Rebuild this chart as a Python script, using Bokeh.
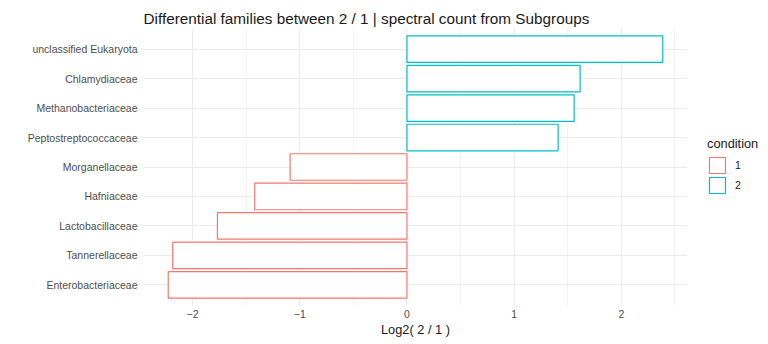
from bokeh.plotting import figure
from bokeh.models import (Range1d, FactorRange, Legend, LegendItem, ColumnDataSource,
                          FixedTicker, Title)
from bokeh.embed import file_html
from bokeh.resources import INLINE

# Data (bottom to top)
families = ["Enterobacteriaceae", "Tannerellaceae", "Lactobacillaceae", "Hafniaceae",
            "Morganellaceae", "Peptostreptococcaceae", "Methanobacteriaceae",
            "Chlamydiaceae", "unclassified Eukaryota"]
log2fc = [-2.227, -2.185, -1.768, -1.42, -1.09, 1.41, 1.559, 1.615, 2.386]
condition = ["1", "1", "1", "1", "1", "2", "2", "2", "2"]
cond_levels = ["1", "2"]
cond_colors = {"1": "#F8766D", "2": "#00BFC4"}
x_ticks = [-2, -1, 0, 1, 2]
x_minor = [-1.5, -0.5, 0.5, 1.5, 2.5]
title_text = "Differential families between 2 / 1 | spectral count from Subgroups"

lo, hi = min(log2fc), max(log2fc)
pad = 0.05 * (hi - lo)

FONT = "Liberation Sans"

p = figure(frame_width=544, frame_height=277, output_backend="svg", toolbar_location=None,
           y_range=FactorRange(factors=families, range_padding=0.2, range_padding_units="absolute"),
           x_range=Range1d(lo - pad, hi + pad),
           min_border_left=143, min_border_right=81, min_border_top=28, min_border_bottom=39)

p.outline_line_color = None
p.background_fill_color = "white"
p.border_fill_color = "white"

p.add_layout(Title(text=title_text, text_font=FONT, text_font_size="15.3px",
                   text_font_style="normal", text_color="#1a1a1a", align="left",
                   vertical_align="top", standoff=0, offset=0), "above")
# small spacer between title and frame
p.add_layout(Title(text=" ", text_font_size="1px", standoff=3), "above")

renderers = {}
for c in cond_levels:
    idx = [i for i, v in enumerate(condition) if v == c]
    src = ColumnDataSource(dict(y=[families[i] for i in idx], right=[log2fc[i] for i in idx]))
    renderers[c] = p.hbar(y="y", left=0, right="right", height=0.9, source=src,
                          fill_color="white", line_color=cond_colors[c], line_width=1.2)

p.xaxis.ticker = FixedTicker(ticks=x_ticks, minor_ticks=x_minor)
p.xgrid.ticker = FixedTicker(ticks=x_ticks, minor_ticks=x_minor)
p.xgrid.grid_line_color = "#ebebeb"
p.xgrid.grid_line_width = 1.1
p.xgrid.minor_grid_line_color = "#f0f0f0"
p.xgrid.minor_grid_line_width = 0.8
p.ygrid.grid_line_color = "#ebebeb"
p.ygrid.grid_line_width = 1.1

for ax in (p.xaxis[0], p.yaxis[0]):
    ax.axis_line_color = None
    ax.major_tick_line_color = None
    ax.minor_tick_line_color = None
    ax.major_tick_in = 0
    ax.major_tick_out = 0
    ax.minor_tick_in = 0
    ax.minor_tick_out = 0
    ax.major_label_text_font = FONT
    ax.major_label_text_font_size = "10.5px"
    ax.major_label_text_color = "#4d4d4d"

p.yaxis.major_label_standoff = 6
p.xaxis.major_label_standoff = 4
p.xaxis.axis_label = "Log2( 2 / 1 )"
p.xaxis.axis_label_text_font = FONT
p.xaxis.axis_label_text_font_size = "12.8px"
p.xaxis.axis_label_text_font_style = "normal"
p.xaxis.axis_label_text_color = "#1a1a1a"
p.xaxis.axis_label_standoff = 1

legend = Legend(items=[LegendItem(label=c, renderers=[renderers[c]]) for c in cond_levels],
                location=(20, 110), title="condition",
                title_text_font=FONT, title_text_font_size="12.8px", title_text_color="#1a1a1a",
                title_text_font_style="normal", title_standoff=4,
                label_text_font=FONT, label_text_font_size="10.5px", label_text_color="#1a1a1a",
                glyph_width=20, glyph_height=20, label_height=20, spacing=0,
                padding=0, margin=0, border_line_color=None, background_fill_alpha=0,
                label_standoff=8)
p.add_layout(legend, "right")

open("out.html", "w").write(file_html(p, INLINE))
